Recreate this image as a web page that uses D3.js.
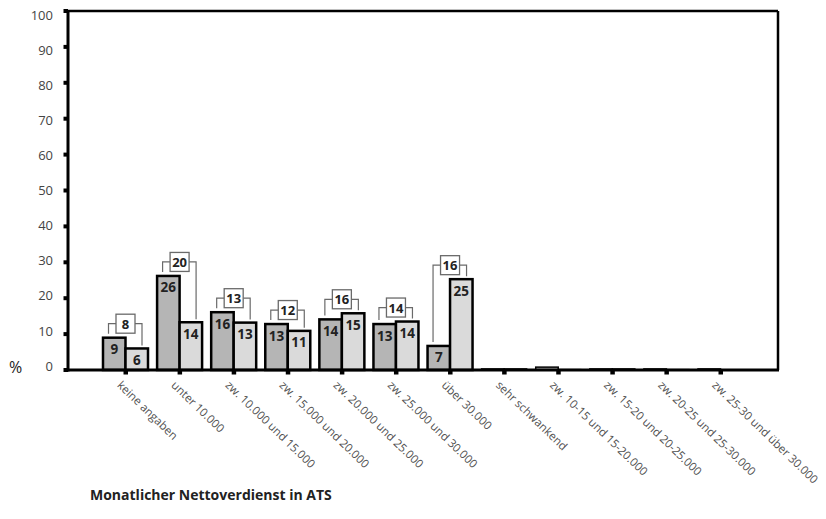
<!DOCTYPE html>
<html>
<head>
<meta charset="utf-8">
<script src="https://cdn.jsdelivr.net/npm/d3@7/dist/d3.min.js"></script>
<style>
  html, body { margin: 0; padding: 0; background: #fff; }
  svg { display: block; font-family: "Open Sans", "Noto Sans", sans-serif; }
</style>
</head>
<body>
<svg id="chart" width="826" height="519"></svg>
<script>
const categories = [
  "keine angaben", "unter 10.000", "zw. 10.000 und 15.000", "zw. 15.000 und 20.000",
  "zw. 20.000 und 25.000", "zw. 25.000 und 30.000", "über 30.000", "sehr schwankend",
  "zw. 10-15 und 15-20.000", "zw. 15-20 und 20-25.000", "zw. 20-25 und 25-30.000",
  "zw. 25-30 und über 30.000"
];
// bar heights (percent)
const seriesA = [9.0, 26.2, 16.1, 12.8, 14.1, 12.8, 6.7, 0.3, 0.8, 0.3, 0.3, 0.3];
const seriesB = [6.0, 13.3, 13.2, 10.9, 15.8, 13.5, 25.3, 0.3, 0.1, 0.3, 0.1, 0.0];
// printed labels
const labelsA = [9, 26, 16, 13, 14, 13, 7, null, null, null, null, null];
const labelsB = [6, 14, 13, 11, 15, 14, 25, null, null, null, null, null];
const totals  = [8, 20, 13, 12, 16, 14, 16, null, null, null, null, null];
const yTicks = [0, 10, 20, 30, 40, 50, 60, 70, 80, 90, 100];
const xTitle = "Monatlicher Nettoverdienst in ATS";
const yUnit = "%";

const svg = d3.select("#chart");
const L = 68, R = 778, T = 11, B = 370;

const x = d3.scaleBand().domain(categories).range([L, R]).paddingInner(0).paddingOuter(0.563);
const y = d3.scaleLinear().domain([0, 100]).range([B, T]);
const yLab = d3.scaleLinear().domain([0, 100]).range([366, 15]);
const half = 22.5;
const cx = c => x(c) + x.bandwidth() / 2;

const data = categories.map((c, i) => ({c, a: seriesA[i], b: seriesB[i], la: labelsA[i], lb: labelsB[i], t: totals[i]}));

// frame top & right
svg.append("line").attr("x1", L).attr("x2", R).attr("y1", T).attr("y2", T)
  .attr("stroke", "#000").attr("stroke-width", 2.5);
svg.append("line").attr("x1", R).attr("x2", R).attr("y1", T).attr("y2", B)
  .attr("stroke", "#000").attr("stroke-width", 2.5);

// bars
const g = svg.append("g");
g.selectAll("rect.a").data(data).join("rect").attr("class", "a")
  .attr("x", d => cx(d.c) - half).attr("width", half)
  .attr("y", d => y(d.a)).attr("height", d => B - y(d.a))
  .attr("fill", "#b5b5b5").attr("stroke", "#000").attr("stroke-width", d => d.a > 1 ? 2.5 : 1.5);
g.selectAll("rect.b").data(data).join("rect").attr("class", "b")
  .attr("x", d => cx(d.c)).attr("width", half)
  .attr("y", d => y(d.b)).attr("height", d => B - y(d.b))
  .attr("fill", "#dadada").attr("stroke", "#000").attr("stroke-width", d => d.b > 1 ? 2.5 : 1.5);

// bar labels
g.selectAll("text.la").data(data.filter(d => d.la != null)).join("text")
  .attr("x", d => cx(d.c) - half / 2).attr("y", d => y(d.a) + 16.5)
  .attr("text-anchor", "middle").attr("font-size", 13.5).attr("font-weight", 700)
  .attr("fill", "#222").text(d => d.la);
g.selectAll("text.lb").data(data.filter(d => d.lb != null)).join("text")
  .attr("x", d => cx(d.c) + half / 2).attr("y", d => y(d.b) + 16.5)
  .attr("text-anchor", "middle").attr("font-size", 13.5).attr("font-weight", 700)
  .attr("fill", "#222").text(d => d.lb);

// brackets with total boxes
const bw = 19, bh = 19;
const br = svg.append("g");
data.filter(d => d.t != null).forEach(d => {
  const c = cx(d.c);
  const hy = Math.min(y(d.a), y(d.b)) - 14;
  const xl = c - half + 5.5, xr = c + half - 6;
  br.append("path")
    .attr("d", `M${xl},${y(d.a) - 4} V${hy} H${c - bw / 2} M${c + bw / 2},${hy} H${xr} V${y(d.b) - 3}`)
    .attr("fill", "none").attr("stroke", "#6a6a6a").attr("stroke-width", 1.2);
  br.append("rect").attr("x", c - bw / 2).attr("y", hy - bh / 2).attr("width", bw).attr("height", bh)
    .attr("fill", "#fff").attr("stroke", "#6a6a6a").attr("stroke-width", 1.3);
  br.append("text").attr("x", c).attr("y", hy + 5).attr("text-anchor", "middle")
    .attr("font-size", 13).attr("font-weight", 700).attr("fill", "#222").text(d.t);
});

// axes lines
svg.append("line").attr("x1", L).attr("x2", L).attr("y1", T - 1).attr("y2", B + 1.5)
  .attr("stroke", "#000").attr("stroke-width", 3);
svg.append("line").attr("x1", L - 4).attr("x2", R + 1).attr("y1", B).attr("y2", B)
  .attr("stroke", "#000").attr("stroke-width", 3);

// y ticks
svg.selectAll("rect.yt").data(yTicks).join("rect")
  .attr("x", L - 4.5).attr("y", d => y(d) - 2).attr("width", 4.5).attr("height", 4).attr("fill", "#000");
svg.selectAll("text.yl").data(yTicks).join("text")
  .attr("x", 53).attr("y", d => yLab(d)).attr("dy", "0.36em")
  .attr("text-anchor", "end").attr("font-size", 13).attr("fill", "#444").text(d => d);
svg.append("text").attr("x", 9).attr("y", 373).attr("font-size", 16).attr("fill", "#222").text(yUnit);

// x ticks
svg.selectAll("rect.xt").data(categories).join("rect")
  .attr("x", d => cx(d) - 2).attr("y", B).attr("width", 4.5).attr("height", 4.5).attr("fill", "#000");
svg.selectAll("text.xl").data(categories).join("text")
  .attr("transform", d => `translate(${cx(d) - 9},${B + 16}) rotate(44)`)
  .attr("font-size", 11.5).attr("fill", "#505050").text(d => d);

// title
svg.append("text").attr("x", 90).attr("y", 500).attr("font-size", 14).attr("font-weight", 700)
  .attr("fill", "#222").text(xTitle);
</script>
</body>
</html>
